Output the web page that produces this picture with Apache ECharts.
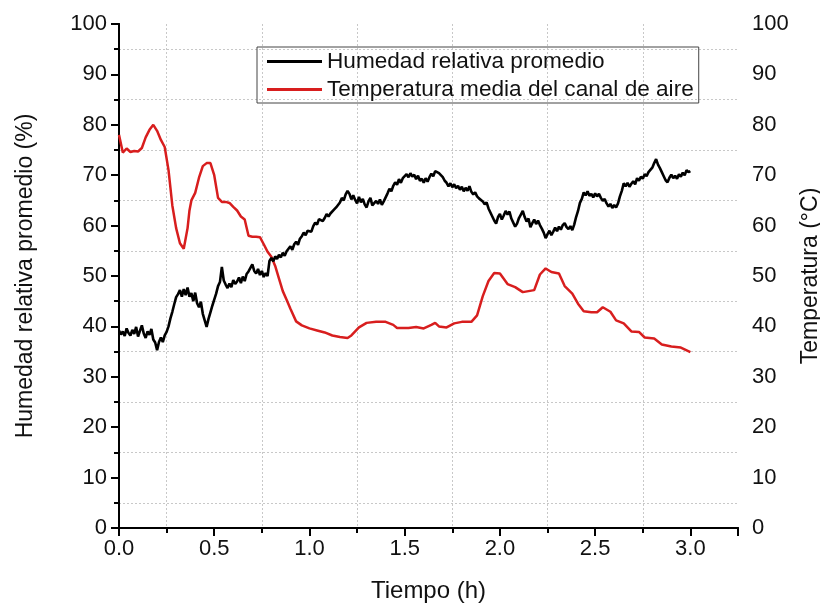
<!DOCTYPE html>
<html>
<head>
<meta charset="utf-8">
<script src="https://cdn.jsdelivr.net/npm/echarts@6/dist/echarts.min.js"></script>
<style>
  html, body { margin: 0; padding: 0; background: #fff; }
  #chart { width: 820px; height: 605px; }
</style>
</head>
<body>
<div id="chart"></div>
<script>
// Time axis ticks (h) and value axis ticks
const xTicks = [0.0, 0.5, 1.0, 1.5, 2.0, 2.5, 3.0];
const yTicks = [0, 10, 20, 30, 40, 50, 60, 70, 80, 90, 100];

// Humedad relativa promedio (%) vs tiempo (h)
const humedad = [
  [0.00, 39.2], [0.01, 38.4], [0.02, 39.0], [0.03, 38.1], [0.04, 39.6], [0.05, 38.7],
  [0.06, 38.2], [0.07, 39.3], [0.08, 38.5], [0.09, 39.9], [0.10, 38.0], [0.11, 39.1],
  [0.12, 40.2], [0.13, 38.6], [0.14, 37.7], [0.15, 39.0], [0.16, 38.3], [0.17, 39.5],
  [0.18, 37.4], [0.19, 36.8], [0.20, 35.3], [0.21, 36.9], [0.22, 37.8], [0.23, 36.9],
  [0.24, 38.2], [0.25, 38.9], [0.26, 40.0], [0.27, 41.6], [0.28, 42.9], [0.29, 44.4],
  [0.30, 45.8], [0.31, 46.4], [0.32, 47.2], [0.33, 45.9], [0.34, 47.4], [0.35, 46.2],
  [0.36, 47.7], [0.37, 45.9], [0.38, 46.6], [0.39, 45.0], [0.40, 46.7], [0.41, 44.6],
  [0.42, 43.8], [0.43, 44.9], [0.44, 42.5], [0.45, 41.2], [0.46, 39.9], [0.47, 41.5],
  [0.48, 42.8], [0.49, 44.1], [0.50, 45.3], [0.51, 46.5], [0.52, 48.0], [0.53, 48.8],
  [0.54, 51.8], [0.55, 49.1], [0.56, 48.3], [0.57, 47.6], [0.58, 48.5], [0.59, 47.8],
  [0.60, 49.2], [0.61, 48.4], [0.62, 48.9], [0.63, 49.7], [0.64, 48.6], [0.65, 49.9],
  [0.66, 49.0], [0.67, 50.4], [0.68, 50.9], [0.69, 51.6], [0.70, 52.3], [0.71, 51.0],
  [0.72, 50.5], [0.73, 51.4], [0.74, 50.2], [0.75, 51.0], [0.76, 49.8], [0.77, 50.6],
  [0.78, 50.0], [0.79, 53.0], [0.80, 53.6], [0.81, 52.9], [0.82, 53.9], [0.83, 53.4],
  [0.84, 54.2], [0.85, 53.7], [0.86, 54.6], [0.87, 54.0], [0.88, 54.9], [0.89, 55.4],
  [0.90, 55.9], [0.91, 55.2], [0.92, 56.3], [0.93, 56.8], [0.94, 56.2], [0.95, 57.4],
  [0.96, 57.9], [0.97, 58.6], [0.98, 58.1], [0.99, 59.0], [1.00, 59.3], [1.01, 58.8],
  [1.02, 59.9], [1.03, 60.6], [1.04, 60.2], [1.05, 61.3], [1.06, 61.6], [1.07, 60.9],
  [1.08, 61.5], [1.09, 62.3], [1.10, 61.8], [1.11, 62.4], [1.12, 62.1], [1.13, 63.2],
  [1.14, 63.6], [1.15, 64.1], [1.16, 64.6], [1.17, 65.5], [1.18, 65.0], [1.19, 66.2],
  [1.20, 66.9], [1.21, 66.3], [1.22, 65.2], [1.23, 66.0], [1.24, 65.1], [1.25, 64.4],
  [1.26, 65.7], [1.27, 64.6], [1.28, 65.3], [1.29, 64.2], [1.30, 63.6], [1.31, 64.8],
  [1.32, 65.5], [1.33, 64.0], [1.34, 63.7], [1.35, 64.9], [1.36, 64.3], [1.37, 65.2],
  [1.38, 64.1], [1.39, 64.8], [1.40, 65.6], [1.41, 66.4], [1.42, 67.3], [1.43, 66.8],
  [1.44, 67.9], [1.45, 68.6], [1.46, 68.1], [1.47, 69.2], [1.48, 68.5], [1.49, 69.4],
  [1.50, 69.8], [1.51, 70.2], [1.52, 69.6], [1.53, 70.4], [1.54, 69.7], [1.55, 70.1],
  [1.56, 69.2], [1.57, 69.9], [1.58, 68.9], [1.59, 69.3], [1.60, 68.5], [1.61, 69.4],
  [1.62, 68.7], [1.63, 69.6], [1.64, 70.3], [1.65, 69.8], [1.66, 70.8], [1.67, 71.1],
  [1.68, 70.4], [1.69, 70.7], [1.70, 69.6], [1.71, 68.9], [1.72, 68.5], [1.73, 67.8],
  [1.74, 68.4], [1.75, 67.6], [1.76, 68.2], [1.77, 67.4], [1.78, 67.9], [1.79, 67.1],
  [1.80, 67.7], [1.81, 66.8], [1.82, 67.5], [1.83, 66.9], [1.84, 67.8], [1.85, 66.7],
  [1.86, 66.2], [1.87, 66.6], [1.88, 65.8], [1.89, 65.4], [1.90, 65.6], [1.91, 64.8],
  [1.92, 64.2], [1.93, 64.6], [1.94, 63.4], [1.95, 62.6], [1.96, 61.8], [1.97, 61.0],
  [1.98, 60.4], [1.99, 61.7], [2.00, 62.3], [2.01, 61.2], [2.02, 62.0], [2.03, 62.9],
  [2.04, 62.2], [2.05, 62.8], [2.06, 61.4], [2.07, 60.6], [2.08, 59.8], [2.09, 60.4],
  [2.10, 61.5], [2.11, 62.2], [2.12, 62.9], [2.13, 61.7], [2.14, 60.8], [2.15, 61.4],
  [2.16, 59.7], [2.17, 60.5], [2.18, 61.2], [2.19, 60.3], [2.20, 61.0], [2.21, 60.1],
  [2.22, 59.4], [2.23, 58.6], [2.24, 57.5], [2.25, 58.3], [2.26, 59.0], [2.27, 58.1],
  [2.28, 58.8], [2.29, 59.6], [2.30, 58.9], [2.31, 59.8], [2.32, 59.2], [2.33, 60.1],
  [2.34, 60.5], [2.35, 59.7], [2.36, 59.3], [2.37, 59.9], [2.38, 59.1], [2.39, 60.2],
  [2.40, 61.7], [2.41, 62.9], [2.42, 64.5], [2.43, 65.3], [2.44, 66.6], [2.45, 66.0],
  [2.46, 66.8], [2.47, 65.9], [2.48, 66.3], [2.49, 65.6], [2.50, 66.4], [2.51, 65.8],
  [2.52, 66.3], [2.53, 65.5], [2.54, 64.9], [2.55, 65.3], [2.56, 64.4], [2.57, 63.8],
  [2.58, 64.3], [2.59, 63.5], [2.60, 64.1], [2.61, 63.6], [2.62, 64.4], [2.63, 65.8],
  [2.64, 66.9], [2.65, 68.4], [2.66, 67.8], [2.67, 68.5], [2.68, 67.7], [2.69, 68.3],
  [2.70, 68.8], [2.71, 68.2], [2.72, 69.4], [2.73, 68.9], [2.74, 69.7], [2.75, 69.3],
  [2.76, 70.2], [2.77, 69.8], [2.78, 70.6], [2.79, 70.9], [2.80, 71.5], [2.81, 72.4],
  [2.82, 73.2], [2.83, 72.1], [2.84, 71.4], [2.85, 70.6], [2.86, 69.8], [2.87, 69.0],
  [2.88, 68.6], [2.89, 69.5], [2.90, 70.1], [2.91, 69.4], [2.92, 69.9], [2.93, 69.3],
  [2.94, 70.2], [2.95, 69.7], [2.96, 70.5], [2.97, 70.0], [2.98, 71.0], [2.99, 70.6],
  [3.00, 70.8]
];

// Temperatura media del canal de aire (°C) vs tiempo (h)
const temperatura = [
  [0.00, 78.0], [0.02, 74.5], [0.04, 75.3], [0.06, 74.6], [0.08, 74.8], [0.10, 74.7],
  [0.12, 75.4], [0.14, 77.5], [0.16, 79.0], [0.18, 80.0], [0.20, 78.8], [0.22, 77.0],
  [0.24, 75.6], [0.26, 71.0], [0.28, 64.0], [0.30, 59.5], [0.32, 56.5], [0.34, 55.4],
  [0.36, 59.5], [0.37, 63.0], [0.38, 65.0], [0.40, 66.5], [0.42, 69.5], [0.44, 71.8],
  [0.46, 72.4], [0.48, 72.4], [0.50, 70.0], [0.52, 65.5], [0.54, 64.7], [0.56, 64.7],
  [0.58, 64.5], [0.60, 63.7], [0.62, 63.0], [0.64, 61.8], [0.66, 61.2], [0.68, 58.0],
  [0.70, 57.8], [0.72, 57.8], [0.74, 57.7], [0.76, 56.3], [0.78, 54.8], [0.80, 53.8],
  [0.82, 52.0], [0.84, 49.5], [0.86, 47.0], [0.88, 45.3], [0.90, 43.5], [0.93, 41.0],
  [0.96, 40.2], [1.00, 39.6], [1.04, 39.2], [1.08, 38.8], [1.12, 38.2], [1.16, 37.9],
  [1.20, 37.7], [1.22, 38.2], [1.26, 39.8], [1.30, 40.7], [1.35, 40.9], [1.40, 40.9],
  [1.44, 40.3], [1.46, 39.7], [1.52, 39.7], [1.56, 39.9], [1.60, 39.6], [1.64, 40.3],
  [1.66, 40.7], [1.68, 40.0], [1.72, 39.8], [1.76, 40.6], [1.80, 40.9], [1.85, 40.9],
  [1.88, 42.2], [1.91, 46.0], [1.94, 49.0], [1.97, 50.6], [2.00, 50.5], [2.04, 48.4],
  [2.08, 47.8], [2.12, 46.8], [2.15, 47.0], [2.18, 47.2], [2.21, 50.3], [2.24, 51.5],
  [2.27, 50.8], [2.31, 50.5], [2.34, 48.0], [2.38, 46.5], [2.41, 44.5], [2.44, 43.0],
  [2.48, 42.8], [2.51, 42.8], [2.54, 43.8], [2.58, 42.9], [2.61, 41.2], [2.65, 40.6],
  [2.69, 39.0], [2.73, 38.9], [2.76, 37.8], [2.81, 37.6], [2.85, 36.4], [2.90, 36.0],
  [2.95, 35.8], [3.00, 34.9]
];

const FONT = "'Liberation Sans', Arial, sans-serif";
const INK = '#111';
const gridDots = { show: true, lineStyle: { color: '#c8c8c8', type: [2, 2], width: 1 } };

const chart = echarts.init(document.getElementById('chart'), null, { renderer: 'canvas' });

chart.setOption({
  animation: false,
  backgroundColor: '#fff',
  textStyle: { fontFamily: FONT },
  grid: { left: 119, right: 82, top: 24, bottom: 77, containLabel: false, outerBoundsMode: 'none' },
  legend: {
    orient: 'vertical',
    left: 257,
    top: 47,
    padding: [3, 5, 2, 10],
    itemGap: 5,
    itemWidth: 55,
    itemHeight: 3,
    icon: 'rect',
    borderColor: '#444',
    borderWidth: 1,
    textStyle: { fontSize: 22.6, color: INK, fontFamily: FONT },
    data: ['Humedad relativa promedio', 'Temperatura media del canal de aire']
  },
  xAxis: [
    {
      type: 'value',
      position: 'bottom',
      min: xTicks[0],
      max: 3.25,
      interval: xTicks[1] - xTicks[0],
      name: 'Tiempo (h)',
      nameLocation: 'middle',
      nameGap: 51,
      nameTextStyle: { fontSize: 24, color: INK, fontFamily: FONT },
      axisLine: { show: true, lineStyle: { color: '#000', width: 2 } },
      axisTick: { show: true, length: 8, lineStyle: { color: '#000', width: 2 } },
      minorTick: { show: true, splitNumber: 2, length: 5, lineStyle: { color: '#000', width: 2 } },
      splitLine: { show: false },
      minorSplitLine: gridDots,
      axisLabel: {
        fontSize: 22, color: INK, margin: 10, fontFamily: FONT,
        showMaxLabel: false,
        formatter: v => xTicks.includes(v) ? v.toFixed(1) : ''
      }
    },
    {
      type: 'value',
      position: 'top',
      min: xTicks[0],
      max: 3.25,
      axisLine: { show: true, lineStyle: { color: '#000', width: 2 } },
      axisTick: { show: false },
      axisLabel: { show: false },
      splitLine: { show: false }
    }
  ],
  yAxis: [
    {
      type: 'value',
      position: 'left',
      min: yTicks[0],
      max: yTicks[yTicks.length - 1],
      interval: yTicks[1] - yTicks[0],
      name: 'Humedad relativa promedio (%)',
      nameLocation: 'middle',
      nameGap: 82,
      nameRotate: 90,
      nameTextStyle: { fontSize: 23, color: INK, fontFamily: FONT },
      axisLine: { show: true, lineStyle: { color: '#000', width: 2 } },
      axisTick: { show: true, length: 8, lineStyle: { color: '#000', width: 2 } },
      minorTick: { show: true, splitNumber: 2, length: 5, lineStyle: { color: '#000', width: 2 } },
      splitLine: { show: false },
      minorSplitLine: gridDots,
      axisLabel: { fontSize: 22, color: INK, margin: 12, fontFamily: FONT }
    },
    {
      type: 'value',
      position: 'right',
      min: yTicks[0],
      max: yTicks[yTicks.length - 1],
      interval: yTicks[1] - yTicks[0],
      name: 'Temperatura (°C)',
      nameLocation: 'middle',
      nameGap: 52,
      nameRotate: 90,
      nameTextStyle: { fontSize: 23, color: INK, fontFamily: FONT },
      axisLine: { show: true, lineStyle: { color: '#000', width: 2 } },
      axisTick: { show: true, inside: true, length: 7, lineStyle: { color: '#000', width: 2 } },
      minorTick: { show: true, splitNumber: 2, length: 5, lineStyle: { color: '#000', width: 2 } },
      splitLine: { show: false },
      axisLabel: { fontSize: 22, color: INK, margin: 14, fontFamily: FONT }
    }
  ],
  series: [
    {
      name: 'Humedad relativa promedio',
      type: 'line',
      xAxisIndex: 0,
      yAxisIndex: 0,
      data: humedad,
      showSymbol: false,
      symbol: 'none',
      color: '#000',
      lineStyle: { color: '#000', width: 2.6 },
      z: 3
    },
    {
      name: 'Temperatura media del canal de aire',
      type: 'line',
      xAxisIndex: 0,
      yAxisIndex: 1,
      data: temperatura,
      showSymbol: false,
      symbol: 'none',
      color: '#d81e1e',
      lineStyle: { color: '#d81e1e', width: 2.5 },
      z: 2
    }
  ]
});
</script>
</body>
</html>
